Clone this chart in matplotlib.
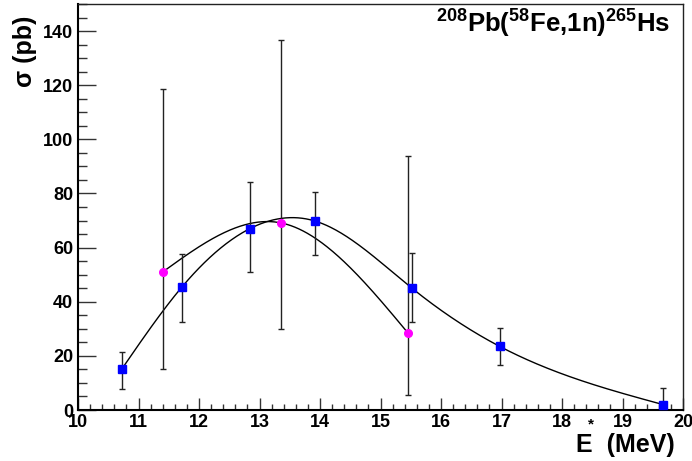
import numpy as np
import matplotlib
matplotlib.use('Agg')
import matplotlib.pyplot as plt

plt.rcParams['font.family'] = ['Liberation Sans', 'DejaVu Sans']
plt.rcParams['font.weight'] = 'bold'
plt.rcParams['mathtext.fontset'] = 'custom'
plt.rcParams['mathtext.rm'] = 'Liberation Sans:bold'
plt.rcParams['mathtext.bf'] = 'Liberation Sans:bold'
plt.rcParams['mathtext.it'] = 'Liberation Sans:bold'

# 1n channel, first data set (blue squares)
e_sq = [10.72, 11.72, 12.84, 13.92, 15.52, 16.97, 19.67]
sig_sq = [15.0, 45.5, 67.0, 69.8, 45.0, 23.5, 2.0]
err_sq_lo = [7.4, 13.0, 16.0, 12.5, 12.6, 6.9, 6.2]
err_sq_hi = [6.4, 12.1, 17.2, 10.8, 12.9, 6.9, 6.2]

# second data set (magenta circles)
e_ci = [11.40, 13.36, 15.46]
sig_ci = [51.0, 69.1, 28.3]
err_ci_lo = [35.7, 39.3, 22.6]
err_ci_hi = [67.6, 67.6, 65.5]

xticks = [10, 11, 12, 13, 14, 15, 16, 17, 18, 19, 20]
yticks = [0, 20, 40, 60, 80, 100, 120, 140]


def natural_spline(x, y, xs):
    x = np.asarray(x, float)
    y = np.asarray(y, float)
    n = len(x)
    h = np.diff(x)
    A = np.zeros((n, n))
    r = np.zeros(n)
    A[0, 0] = A[-1, -1] = 1.0
    for i in range(1, n - 1):
        A[i, i - 1] = h[i - 1]
        A[i, i] = 2 * (h[i - 1] + h[i])
        A[i, i + 1] = h[i]
        r[i] = 6 * ((y[i + 1] - y[i]) / h[i] - (y[i] - y[i - 1]) / h[i - 1])
    M = np.linalg.solve(A, r)
    k = np.clip(np.searchsorted(x, xs) - 1, 0, n - 2)
    hk = h[k]
    a = x[k + 1] - xs
    b = xs - x[k]
    return (M[k] * a**3 / (6 * hk) + M[k + 1] * b**3 / (6 * hk)
            + (y[k] / hk - M[k] * hk / 6) * a
            + (y[k + 1] / hk - M[k + 1] * hk / 6) * b)


fig = plt.figure(figsize=(6.92, 4.61), dpi=100)
ax = fig.add_axes([78 / 692, 51 / 461, 605 / 692, 406 / 461])

# smooth curves through each data set
xs1 = np.linspace(e_sq[0], e_sq[-1], 400)
ax.plot(xs1, natural_spline(e_sq, sig_sq, xs1), color='black', lw=1.0, zorder=2)
xs2 = np.linspace(e_ci[0], e_ci[-1], 300)
ax.plot(xs2, natural_spline(e_ci, sig_ci, xs2), color='black', lw=1.0, zorder=2)

ax.errorbar(e_ci, sig_ci, yerr=[err_ci_lo, err_ci_hi], fmt='o', color='#ff00ff',
            ms=5.5, mec='#ff00ff', ecolor='#222222', elinewidth=1.0,
            capsize=2.2, capthick=1.0, zorder=3)
ax.errorbar(e_sq, sig_sq, yerr=[err_sq_lo, err_sq_hi], fmt='s', color='#0000ff',
            ms=6.3, mec='#0000ff', ecolor='#222222', elinewidth=1.0,
            capsize=2.2, capthick=1.0, zorder=3)

ax.set_xlim(10, 20)
ax.set_ylim(0, 150)
ax.set_xticks(xticks)
ax.set_yticks(yticks)
ax.set_xticks(np.arange(10, 20.01, 0.2), minor=True)
ax.set_yticks(np.arange(0, 150.01, 5), minor=True)
ax.tick_params(axis='x', which='major', direction='in', length=8.6, width=1.0,
               labelsize=13, pad=3.0, color='#333333')
ax.tick_params(axis='x', which='minor', direction='in', length=4.3, width=1.0,
               color='#333333')
ax.tick_params(axis='y', which='major', direction='in', length=13, width=1.0,
               labelsize=13, pad=3.6, color='#333333')
ax.tick_params(axis='y', which='minor', direction='in', length=6.5, width=1.0,
               color='#333333')
for lab in ax.get_xticklabels() + ax.get_yticklabels():
    lab.set_fontweight('bold')

for side in ['left', 'bottom']:
    ax.spines[side].set_linewidth(1.5)
for side in ['top', 'right']:
    ax.spines[side].set_linewidth(1.0)
    ax.spines[side].set_color('#222222')

fig.text(25 / 692, 1 - 16 / 461, 'σ (pb)', rotation=90, ha='center', va='top',
         fontsize=18, fontweight='bold')
fig.text(675 / 692, 1 - 452 / 461, 'E  (MeV)', ha='right', va='baseline',
         fontsize=18, fontweight='bold')
fig.text(591 / 692, 1 - 428 / 461, '*', ha='center', va='baseline',
         fontsize=11, fontweight='bold')

fig.text(670 / 692, 1 - 33 / 461, r'$^{208}$Pb($^{58}$Fe,1n)$^{265}$Hs',
         ha='right', va='baseline', fontsize=18.5, fontweight='bold')

fig.savefig('out.png', dpi=100)
